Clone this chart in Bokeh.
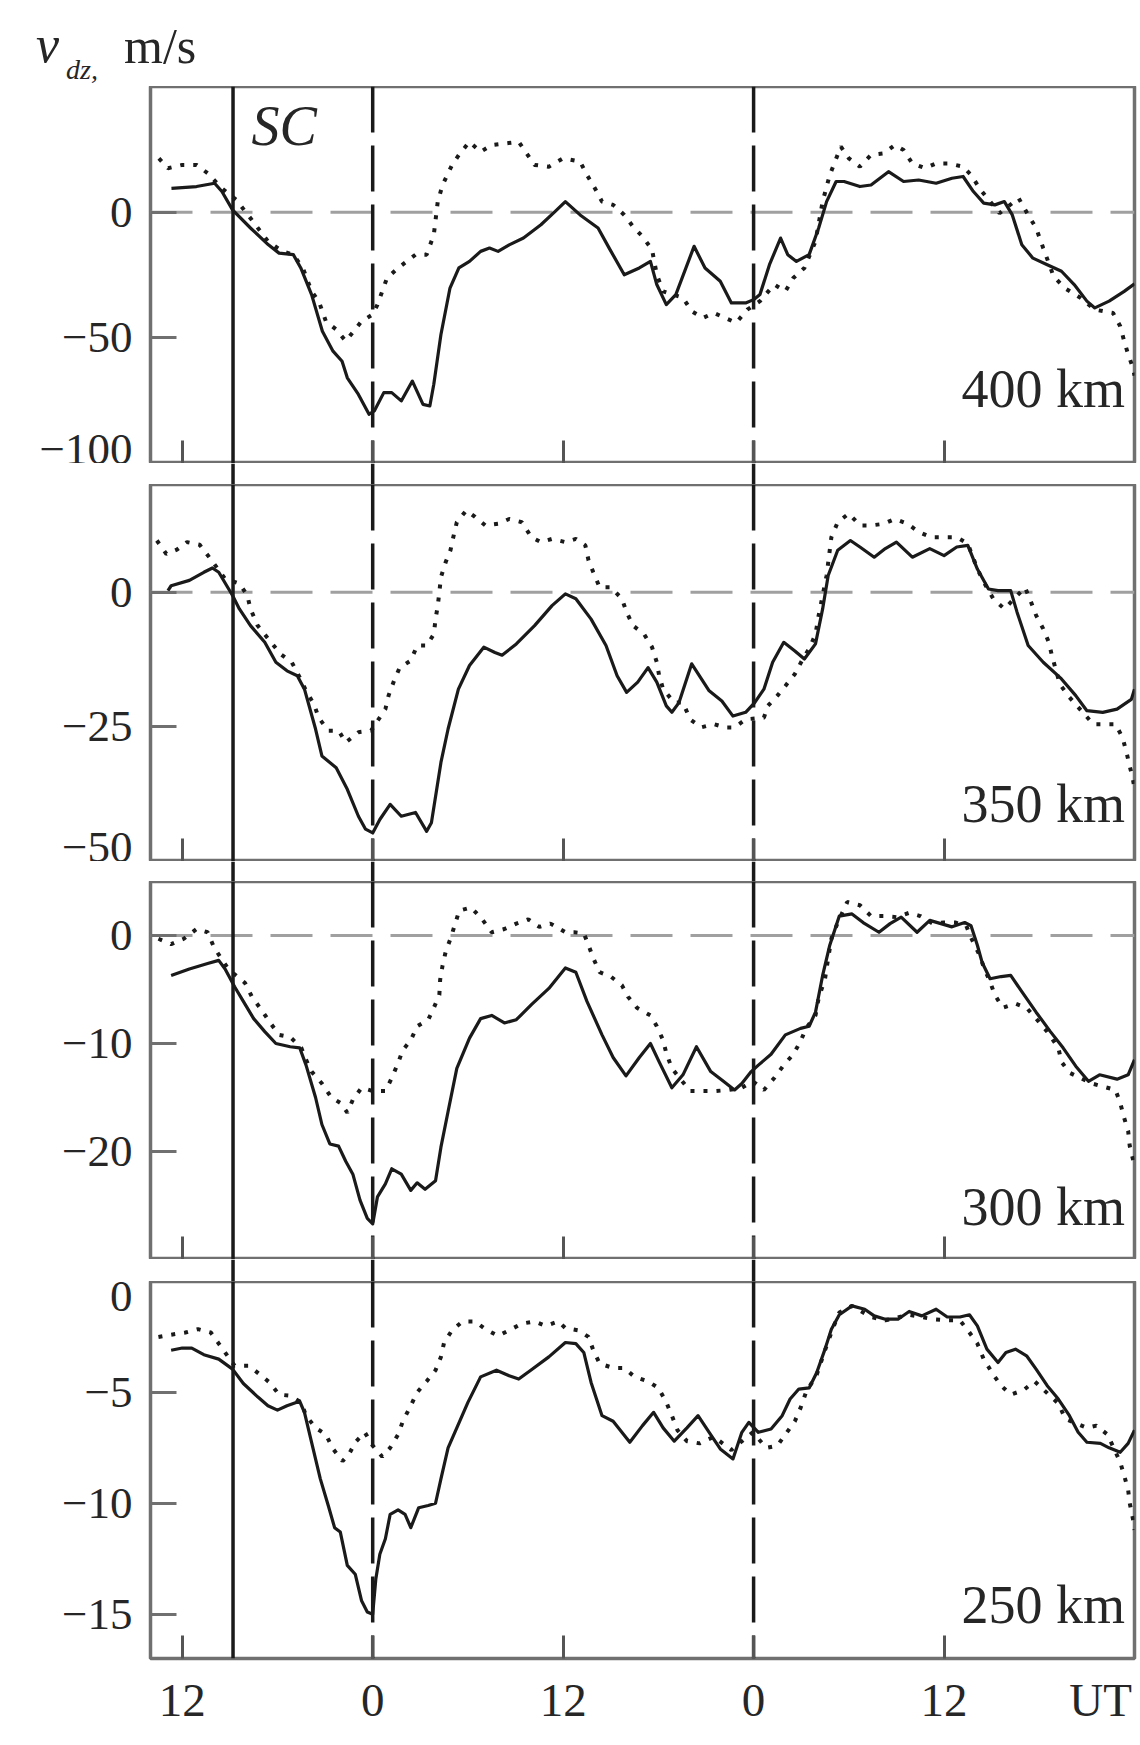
from bokeh.plotting import figure
from bokeh.layouts import column
from bokeh.models import Range1d, Span, Label, FixedTicker, LinearAxis, Div
from bokeh.embed import file_html
from bokeh.resources import INLINE

FONT = "Liberation Serif"
INK = "#1a1a1a"
TXT = "#262626"
GRAY = "#707070"

# ---------------- data (UT hours; 12 = first noon, 24 = first midnight) ----------------
x_ticks = [12, 24, 36, 48, 60]
x_tick_labels = ["12", "0", "12", "0", "12"]
UT_AT = 69.86          # where the "UT" unit label sits on the time axis
sc_time = 15.2
midnights = [24, 48]

heights = ["400 km", "350 km", "300 km", "250 km"]
y_limits = [(-100, 50), (-50, 20), (-30, 5), (-17, 0)]
y_ticks = [[-100, -50, 0], [-50, -25, 0], [-20, -10, 0], [-15, -10, -5, 0]]

t_400_solid = [11.32, 12.9, 14.04, 14.5, 15.17, 16.3, 17.43, 18.1, 19.0, 19.47, 20.15, 20.83, 21.5, 22.07, 22.4,
               23.1, 23.77, 24.1, 24.7, 25.2, 25.8, 26.5, 27.17, 27.6, 27.85, 28.3, 28.87, 29.43, 30.1, 30.8,
               31.36, 31.9, 32.6, 33.5, 34.6, 35.5, 36.14, 37.07, 38.2, 38.9, 39.85, 40.8, 41.5, 41.9, 42.5,
               43.1, 44.25, 44.94, 45.9, 46.6, 47.5, 48.0, 48.4, 49.0, 49.7, 50.15, 50.7, 51.5, 52.1, 52.6,
               53.2, 53.7, 54.7, 55.4, 56.5, 57.45, 58.4, 59.5, 60.5, 61.2, 61.85, 62.5, 63.2, 63.8, 64.3,
               64.9, 65.6, 66.5, 67.4, 68.2, 69.0, 69.5, 70.4, 71.35, 72.0]
v_400_solid = [9.5, 10.2, 11.5, 8.2, 0.9, -6.3, -13.0, -16.3, -16.9, -22.2, -32.8, -47.4, -55.3, -59.3, -65.9,
               -72.5, -80.4, -79.1, -71.8, -71.8, -75.1, -67.2, -76.5, -77.1, -68.5, -48.7, -30.2, -22.2, -19.6, -15.6,
               -14.3, -15.6, -13.0, -10.3, -5.0, 0.3, 4.2, -1.1, -6.3, -14.3, -24.9, -22.2, -19.6, -28.8, -36.8,
               -32.8, -13.6, -22.2, -27.5, -36.1, -36.1, -34.8, -32.8, -20.9, -10.3, -16.9, -19.6, -16.9, -6.3, 4.2,
               12.2, 12.2, 10.2, 10.8, 16.1, 12.2, 12.8, 11.5, 13.5, 14.2, 8.2, 3.6, 2.9, 4.2, -1.1,
               -13.0, -18.3, -20.9, -23.5, -28.8, -35.4, -38.1, -35.4, -31.5, -28.5]

t_400_dotted = [10.53, 11.1, 12.0, 12.9, 13.6, 14.5, 15.4, 16.3, 17.4, 18.3, 19.0, 19.6, 20.15, 20.6, 21.05,
                21.7, 22.3, 22.8, 23.3, 24.0, 24.3, 24.9, 25.6, 26.7, 27.4, 27.85, 28.1, 28.4, 29.0, 29.5,
                30.1, 30.8, 31.5, 32.4, 33.2, 33.7, 34.2, 35.1, 36.0, 37.07, 37.5, 38.0, 38.45, 39.15, 39.85,
                40.4, 41.0, 41.6, 41.9, 42.3, 43.55, 44.1, 44.8, 45.5, 46.2, 46.9, 47.6, 48.4, 49.3, 50.0,
                50.5, 51.2, 51.9, 52.35, 52.8, 53.5, 54.0, 54.7, 55.4, 56.2, 56.9, 57.45, 58.0, 58.8, 59.5,
                60.3, 61.2, 61.7, 62.3, 63.5, 64.7, 65.3, 65.8, 66.25, 66.9, 67.6, 68.6, 69.5, 70.65, 71.1,
                71.35, 71.6, 71.9, 72.0]
v_400_dotted = [21.4, 17.5, 18.8, 18.8, 15.5, 9.5, 4.9, -2.4, -11.6, -15.6, -16.9, -22.2, -31.5, -35.4, -43.4,
                -46.7, -51.3, -47.4, -43.4, -40.7, -36.8, -26.2, -22.2, -16.9, -16.9, -9.0, 4.2, 10.8, 18.8, 23.4,
                28.0, 24.0, 26.7, 27.4, 28.0, 23.4, 18.8, 18.1, 21.4, 20.1, 14.8, 9.5, 4.2, 2.9, -1.1,
                -5.7, -9.7, -14.9, -24.9, -31.5, -34.1, -39.4, -42.1, -40.1, -42.1, -44.0, -38.8, -35.4, -28.8, -31.5,
                -26.2, -22.2, -11.6, 4.2, 14.8, 26.1, 21.4, 18.1, 22.8, 23.4, 26.7, 24.7, 19.4, 17.5, 19.4,
                19.4, 18.1, 14.8, 8.9, -0.4, 5.6, -1.1, -6.3, -14.3, -25.5, -30.2, -34.1, -38.8, -40.1, -45.4,
                -51.3, -56.6, -61.9, -65.0]

t_350_solid = [11.1, 11.3, 12.45, 13.36, 13.9, 14.3, 15.17, 15.6, 16.3, 17.2, 17.9, 18.6, 19.25, 19.7, 20.4,
               20.8, 21.7, 22.4, 23.1, 23.55, 24.0, 24.45, 25.1, 25.8, 26.7, 27.4, 27.7, 28.3, 28.75, 29.4,
               30.1, 31.0, 31.7, 32.15, 33.05, 34.2, 35.3, 36.14, 36.8, 37.76, 38.7, 39.4, 40.0, 40.7, 41.35,
               41.9, 42.5, 42.85, 43.3, 44.1, 45.2, 46.0, 46.7, 47.5, 48.07, 48.65, 49.2, 49.9, 50.6, 51.2,
               51.9, 52.35, 52.7, 53.3, 54.1, 54.7, 55.6, 56.3, 57.0, 58.0, 59.1, 60.0, 60.8, 61.5, 62.1,
               62.8, 63.4, 64.2, 64.6, 65.3, 66.25, 67.4, 68.3, 69.0, 70.0, 70.9, 71.8, 72.0]
v_350_solid = [0.3, 1.2, 2.2, 3.7, 4.5, 3.7, -0.6, -3.1, -6.2, -9.3, -13.0, -14.6, -15.5, -18.0, -25.4,
               -30.4, -32.6, -36.6, -41.6, -44.0, -44.7, -42.2, -39.4, -41.6, -40.9, -44.4, -42.8, -31.6, -25.4, -18.0,
               -13.6, -10.2, -11.2, -11.7, -9.6, -6.2, -2.5, -0.3, -1.2, -5.0, -9.9, -15.5, -18.6, -16.7, -14.0,
               -16.7, -21.1, -22.3, -20.5, -13.3, -18.3, -20.2, -23.0, -22.3, -20.5, -18.0, -13.0, -9.3, -10.9, -12.4,
               -9.6, -3.1, 3.1, 7.8, 9.6, 8.4, 6.5, 8.1, 9.3, 6.5, 8.1, 6.8, 8.4, 8.7, 4.3,
               0.6, 0.3, 0.3, -3.7, -9.9, -13.0, -16.1, -19.2, -22.0, -22.3, -21.7, -19.9, -18.0]

t_350_dotted = [10.4, 11.0, 11.66, 12.3, 13.1, 13.7, 14.7, 15.6, 16.1, 16.3, 16.75, 18.2, 18.9, 19.4, 19.8,
                20.3, 20.6, 21.2, 21.85, 22.3, 23.1, 23.9, 24.3, 24.8, 25.0, 25.35, 25.7, 26.4, 26.8, 27.4,
                27.85, 27.96, 28.1, 28.2, 28.3, 28.6, 28.9, 29.1, 29.3, 29.9, 30.45, 31.1, 31.9, 32.6, 33.4,
                34.0, 34.6, 35.3, 36.14, 36.8, 37.4, 37.6, 37.9, 38.3, 39.0, 39.7, 40.0, 40.4, 41.1, 41.6,
                41.9, 42.05, 42.3, 43.0, 43.55, 44.0, 44.7, 45.5, 46.2, 46.8, 47.5, 48.65, 48.9, 49.5, 50.0,
                50.6, 51.1, 51.5, 51.9, 52.1, 52.35, 52.6, 52.9, 53.3, 54.0, 54.7, 55.4, 56.2, 56.9, 57.7,
                58.4, 59.2, 60.0, 60.8, 61.5, 62.1, 62.5, 63.1, 63.8, 65.1, 65.4, 65.8, 66.25, 66.6, 66.8,
                67.3, 67.9, 69.4, 70.8, 71.25, 71.5, 71.7, 71.9, 72.0]
v_350_dotted = [9.6, 7.1, 7.9, 9.3, 8.8, 6.5, 2.5, 1.6, -0.6, -3.1, -6.2, -11.5, -13.0, -15.8, -18.3,
                -20.8, -23.3, -25.7, -25.7, -27.9, -26.0, -25.7, -23.9, -21.7, -19.2, -16.4, -14.0, -12.7, -9.9, -9.9,
                -7.8, -5.0, -2.5, 0.0, 2.8, 5.6, 7.8, 10.5, 13.0, 15.2, 14.0, 12.4, 12.7, 13.6, 13.0,
                10.2, 9.3, 9.9, 9.3, 9.9, 8.7, 5.9, 3.7, 0.9, 0.9, -1.2, -3.7, -6.2, -7.8, -10.2,
                -13.0, -15.5, -18.0, -20.5, -20.5, -23.6, -25.1, -24.5, -25.1, -25.1, -23.6, -23.3, -21.1, -19.2, -17.4,
                -15.2, -12.4, -10.5, -7.8, -4.3, -0.6, 3.1, 10.2, 13.0, 14.6, 12.4, 12.4, 12.7, 13.6, 12.7,
                11.2, 10.2, 10.2, 10.2, 9.0, 4.3, 1.9, -1.2, -3.1, 0.9, -1.2, -4.3, -6.8, -9.3, -11.8,
                -17.1, -19.5, -24.5, -24.5, -27.0, -29.8, -32.3, -34.7, -36.5]

t_300_solid = [11.3, 12.45, 13.6, 14.3, 14.7, 15.3, 15.85, 16.5, 17.2, 17.9, 18.8, 19.4, 19.8, 20.4, 20.8,
               21.3, 21.85, 22.3, 22.75, 23.2, 23.66, 24.0, 24.3, 24.8, 25.2, 25.8, 26.4, 26.8, 27.3, 27.96,
               28.3, 28.75, 29.3, 30.1, 30.8, 31.5, 32.3, 33.05, 34.0, 35.1, 36.14, 36.8, 37.5, 38.45, 39.15,
               39.96, 40.8, 41.5, 42.05, 42.85, 43.55, 44.4, 45.3, 46.1, 46.8, 47.26, 47.85, 48.3, 49.1, 50.0,
               50.96, 51.5, 51.9, 52.35, 52.8, 53.4, 54.2, 54.9, 55.9, 56.6, 57.3, 58.3, 59.1, 59.8, 60.5,
               61.3, 61.7, 62.1, 62.4, 62.9, 63.6, 64.2, 64.9, 65.8, 66.7, 67.5, 68.3, 69.1, 69.8, 70.9,
               71.6, 72.0]
v_300_solid = [-3.7, -3.1, -2.6, -2.3, -3.1, -4.75, -6.1, -7.7, -8.9, -10.0, -10.3, -10.4, -12.0, -15.0, -17.5,
               -19.3, -19.5, -20.9, -22.1, -24.5, -26.2, -26.7, -24.2, -23.0, -21.6, -22.1, -23.6, -22.9, -23.5, -22.7,
               -19.6, -16.3, -12.3, -9.5, -7.7, -7.4, -8.1, -7.8, -6.4, -4.9, -3.0, -3.4, -6.1, -9.2, -11.3,
               -13.0, -11.3, -10.0, -11.7, -14.1, -12.9, -10.3, -12.6, -13.5, -14.3, -13.7, -12.6, -12.0, -11.0, -9.2,
               -8.6, -8.4, -7.1, -3.7, -0.9, 1.8, 2.0, 1.2, 0.3, 1.1, 1.7, 0.3, 1.4, 1.1, 0.8,
               1.2, 0.9, -0.9, -2.5, -4.0, -3.8, -3.7, -5.2, -7.1, -8.9, -10.4, -12.1, -13.5, -12.9, -13.3,
               -12.9, -11.5]

t_300_dotted = [10.5, 11.3, 12.1, 12.9, 13.6, 14.0, 14.9, 15.96, 16.4, 17.0, 17.55, 18.1, 18.8, 19.5, 19.8,
                20.15, 20.8, 21.4, 21.96, 22.4, 22.75, 23.3, 24.0, 24.8, 25.2, 25.6, 25.9, 26.4, 26.8, 27.5,
                27.85, 28.2, 28.25, 28.4, 28.6, 28.9, 29.2, 29.45, 30.2, 30.9, 31.5, 32.3, 33.05, 33.8, 34.5,
                35.2, 36.14, 36.7, 37.3, 37.6, 37.9, 38.3, 39.0, 39.7, 40.1, 40.65, 41.5, 41.9, 42.3, 42.5,
                42.85, 44.0, 44.8, 45.6, 46.45, 47.26, 47.95, 48.65, 49.3, 49.9, 50.5, 50.96, 51.3, 51.9, 52.1,
                52.5, 52.7, 52.9, 53.3, 53.9, 54.7, 55.4, 56.2, 57.0, 57.8, 58.5, 59.3, 60.0, 60.7, 61.4,
                61.7, 62.2, 62.55, 62.9, 63.2, 63.7, 64.5, 65.2, 65.8, 66.5, 67.2, 67.4, 67.9, 69.3, 70.8,
                71.1, 71.35, 71.6, 71.7, 71.9, 72.0]
v_300_dotted = [-0.3, -0.8, -0.3, 0.6, 0.3, -1.1, -3.1, -4.4, -5.7, -6.9, -8.1, -9.2, -9.4, -10.4, -11.5,
                -12.6, -13.7, -15.0, -15.5, -16.4, -15.2, -14.1, -14.4, -14.4, -13.2, -11.8, -10.6, -9.7, -8.4, -7.8,
                -6.7, -5.5, -4.1, -2.8, -1.5, -0.3, 1.1, 2.3, 2.6, 1.5, 0.3, 0.6, 1.1, 1.5, 0.8,
                1.1, 0.3, 0.3, 0.2, -0.9, -2.1, -3.4, -3.8, -4.6, -5.7, -6.7, -7.4, -8.4, -9.7, -10.9,
                -12.3, -14.4, -14.4, -14.4, -14.3, -14.1, -13.5, -14.3, -13.2, -12.0, -11.0, -9.8, -8.6, -7.4, -5.8,
                -4.0, -2.1, -0.3, 1.2, 3.1, 2.8, 1.8, 1.8, 1.7, 2.1, 1.8, 1.1, 1.2, 1.2, 0.9,
                -0.2, -1.7, -3.1, -4.3, -5.5, -6.7, -6.3, -6.7, -7.7, -8.9, -10.4, -11.7, -12.7, -13.7, -14.3,
                -15.5, -16.9, -18.1, -19.5, -20.7, -21.5]

t_250_solid = [11.3, 12.0, 12.6, 13.36, 14.3, 15.17, 15.85, 16.75, 17.4, 18.0, 18.6, 19.4, 19.7, 20.15, 20.7,
               21.2, 21.6, 21.96, 22.4, 22.9, 23.3, 23.66, 24.0, 24.2, 24.45, 24.8, 25.1, 25.6, 26.04, 26.4,
               26.9, 27.5, 27.96, 28.3, 28.75, 29.3, 30.0, 30.8, 31.8, 32.6, 33.2, 33.96, 35.1, 36.14, 36.8,
               37.3, 37.76, 38.45, 39.15, 40.2, 41.0, 41.7, 42.3, 43.0, 43.8, 44.5, 45.2, 45.9, 46.7, 47.26,
               47.7, 48.3, 49.1, 49.8, 50.3, 50.85, 51.5, 51.98, 52.5, 52.9, 53.4, 54.2, 55.0, 55.6, 56.3,
               57.1, 57.8, 58.6, 59.5, 60.2, 61.0, 61.6, 62.1, 62.7, 63.4, 63.9, 64.5, 65.2, 65.8, 66.5,
               67.2, 67.9, 68.45, 69.0, 69.85, 70.4, 71.1, 71.6, 72.0]
v_250_solid = [-3.1, -3.0, -3.0, -3.3, -3.5, -3.95, -4.6, -5.2, -5.6, -5.8, -5.6, -5.4, -5.9, -7.25, -8.9,
               -10.1, -11.1, -11.3, -12.8, -13.2, -14.4, -14.9, -15.0, -13.4, -12.3, -11.6, -10.5, -10.3, -10.5, -11.1,
               -10.2, -10.1, -10.0, -8.9, -7.5, -6.6, -5.45, -4.3, -4.0, -4.25, -4.4, -4.0, -3.4, -2.75, -2.8,
               -3.2, -4.55, -6.05, -6.3, -7.25, -6.5, -5.9, -6.6, -7.2, -6.6, -6.05, -6.8, -7.55, -8.0, -6.8,
               -6.35, -6.8, -6.65, -6.05, -5.3, -4.85, -4.8, -4.1, -3.05, -2.15, -1.5, -1.1, -1.25, -1.55, -1.7,
               -1.7, -1.35, -1.55, -1.25, -1.6, -1.6, -1.5, -2.0, -3.05, -3.65, -3.2, -3.05, -3.35, -3.95, -4.7,
               -5.3, -6.05, -6.8, -7.25, -7.3, -7.5, -7.7, -7.3, -6.7]

t_250_dotted = [10.5, 11.3, 12.2, 13.0, 13.8, 14.3, 15.3, 16.2, 16.9, 17.5, 18.1, 18.8, 19.5, 19.8, 20.4,
                21.05, 21.5, 22.1, 22.5, 22.9, 23.5, 24.0, 24.6, 25.1, 25.6, 25.9, 26.4, 26.8, 27.4, 27.96,
                28.3, 28.5, 29.0, 29.66, 30.45, 31.1, 31.9, 32.6, 33.4, 34.2, 34.9, 35.7, 36.14, 36.95, 37.6,
                37.9, 38.3, 39.15, 39.85, 40.5, 41.35, 42.0, 42.5, 42.85, 43.2, 43.8, 44.6, 45.5, 46.6, 47.6,
                47.95, 48.8, 49.5, 50.0, 50.6, 50.96, 51.3, 51.98, 52.5, 53.0, 53.4, 54.2, 55.4, 56.3, 57.8,
                59.3, 60.2, 61.0, 61.6, 62.1, 62.5, 63.1, 63.6, 64.2, 65.0, 65.7, 67.2, 67.65, 69.0, 69.6,
                70.3, 71.1, 71.35, 71.6, 71.7, 71.9, 72.0]
v_250_dotted = [-2.5, -2.4, -2.3, -2.15, -2.3, -2.8, -3.8, -3.8, -4.2, -4.55, -5.1, -5.15, -5.45, -6.05, -6.6,
                -6.9, -7.55, -8.1, -7.8, -7.25, -6.8, -7.4, -7.9, -7.5, -6.9, -6.3, -5.6, -5.0, -4.5, -4.0,
                -3.4, -2.75, -2.2, -1.8, -1.8, -2.15, -2.45, -2.2, -1.9, -1.8, -2.0, -1.8, -2.1, -2.2, -2.5,
                -3.1, -3.7, -3.9, -3.9, -4.3, -4.5, -4.8, -5.45, -6.05, -6.7, -7.2, -7.3, -7.0, -7.6, -7.0,
                -6.8, -7.5, -7.4, -6.9, -6.3, -5.7, -5.0, -4.2, -3.1, -2.1, -1.4, -1.1, -1.6, -1.75, -1.5,
                -1.7, -1.75, -1.75, -2.3, -2.8, -3.5, -4.2, -4.7, -5.1, -4.9, -4.5, -5.5, -6.2, -6.6, -6.5,
                -6.9, -8.15, -8.75, -9.4, -10.0, -10.7, -11.2]

solids = [(t_400_solid, v_400_solid), (t_350_solid, v_350_solid),
          (t_300_solid, v_300_solid), (t_250_solid, v_250_solid)]
dotteds = [(t_400_dotted, v_400_dotted), (t_350_dotted, v_350_dotted),
           (t_300_dotted, v_300_dotted), (t_250_dotted, v_250_dotted)]

# ---------------- layout geometry (pixels) ----------------
W = 1140
FRAME_W = 984
LEFT = 150
RIGHT = 6
TITLE_H = 86
frame_heights = [377, 377, 378, 377]
gap_heights = [21, 20, 22]
bottom_border = 87
label_y = [-70.5, -39.4, -25.1, -14.6]
show_zero = [True, True, True, False]

x_range = Range1d(10, 72)


def vlines(fig):
    fig.add_layout(Span(location=sc_time, dimension="height", line_color=INK,
                        line_width=3.5, level="underlay"))
    for m in midnights:
        fig.add_layout(Span(location=m, dimension="height", line_color=INK,
                            line_width=3.5, line_dash="46 13", level="underlay"))


def minus(v):
    return ("\u2212" + str(abs(v))) if v < 0 else str(v)


children = []

# ---- title strip: v_dz, m/s ----
span_css = "position:absolute;line-height:1;white-space:nowrap;"
title_html = (
    f'<div style="position:relative;width:{W}px;height:{TITLE_H}px;'
    f"font-family:'{FONT}',serif;color:{TXT};\">"
    f'<span style="{span_css}left:36px;top:19px;font-size:52px;font-style:italic;">v</span>'
    f'<span style="{span_css}left:66px;top:56px;font-size:28px;font-style:italic;">dz,</span>'
    f'<span style="{span_css}left:124px;top:21px;font-size:50px;">m/s</span>'
    '</div>'
)
title = Div(text=title_html, width=W, height=TITLE_H, margin=(0, 0, 0, 0))
children.append(title)

for i in range(4):
    last = i == 3
    p = figure(frame_width=FRAME_W, frame_height=frame_heights[i],
               min_border_left=LEFT, min_border_right=RIGHT,
               min_border_top=0,
               min_border_bottom=bottom_border if last else 0,
               x_range=x_range, y_range=Range1d(*y_limits[i]),
               toolbar_location=None, output_backend="svg",
               background_fill_color="white", border_fill_color="white")
    p.outline_line_color = GRAY
    p.outline_line_width = 3.5
    p.grid.visible = False

    # y axis
    ya = p.yaxis[0]
    ya.ticker = FixedTicker(ticks=y_ticks[i])
    ya.major_label_overrides = {t: minus(t) for t in y_ticks[i]}
    ya.axis_line_color = None
    ya.major_tick_in = 26
    ya.major_tick_out = 0
    ya.major_tick_line_color = GRAY
    ya.major_tick_line_width = 3
    ya.minor_tick_line_color = None
    ya.major_label_text_font = FONT
    ya.major_label_text_font_size = "45px"
    ya.major_label_text_color = TXT
    ya.major_label_standoff = 18

    # x axis: inward ticks only (labels are not drawn here)
    xa = p.xaxis[0]
    xa.ticker = FixedTicker(ticks=x_ticks)
    xa.axis_line_color = None
    xa.major_tick_in = 23
    xa.major_tick_out = 0
    xa.major_tick_line_color = "#555555"
    xa.major_tick_line_width = 3
    xa.minor_tick_line_color = None
    xa.major_label_text_color = None
    xa.major_label_text_font_size = "1px"
    xa.major_label_standoff = 0

    if last:
        lab_axis = LinearAxis(ticker=FixedTicker(ticks=x_ticks + [UT_AT]),
                              major_label_overrides=dict(zip(x_ticks + [UT_AT], x_tick_labels + ["UT"])),
                              axis_line_color=None, major_tick_line_color=None,
                              minor_tick_line_color=None, major_tick_in=0, major_tick_out=0,
                              major_label_text_font=FONT, major_label_text_font_size="47px",
                              major_label_text_color=TXT, major_label_standoff=15)
        p.add_layout(lab_axis, "below")

    if show_zero[i]:
        p.add_layout(Span(location=0, dimension="width", line_color="#a0a0a0",
                          line_width=3, line_dash="42 18", level="underlay"))
    vlines(p)

    ts, vs = solids[i]
    p.line(ts, vs, line_color=INK, line_width=3.2, line_join="round")
    td, vd = dotteds[i]
    p.line(td, vd, line_color=INK, line_width=4, line_dash="4 9")

    p.add_layout(Label(x=71.4, y=label_y[i], text=heights[i], text_align="right",
                       text_baseline="alphabetic", text_font=FONT, text_font_size="54px",
                       text_color=TXT))

    if i == 0:
        p.add_layout(Label(x=16.36, y=34.1, text="SC", text_font=FONT, text_font_style="italic",
                           text_font_size="56px", text_color=TXT, text_baseline="alphabetic"))
    children.append(p)

    if not last:
        g = figure(frame_width=FRAME_W, frame_height=gap_heights[i],
                   min_border_left=LEFT, min_border_right=RIGHT,
                   min_border_top=0, min_border_bottom=0,
                   x_range=x_range, y_range=Range1d(0, 1),
                   x_axis_location=None, y_axis_location=None,
                   toolbar_location=None, output_backend="svg",
                   background_fill_color="white", border_fill_color="white")
        g.outline_line_color = None
        g.grid.visible = False
        vlines(g)
        children.append(g)

layout = column(children, spacing=0)
open("out.html", "w").write(file_html(layout, INLINE))
